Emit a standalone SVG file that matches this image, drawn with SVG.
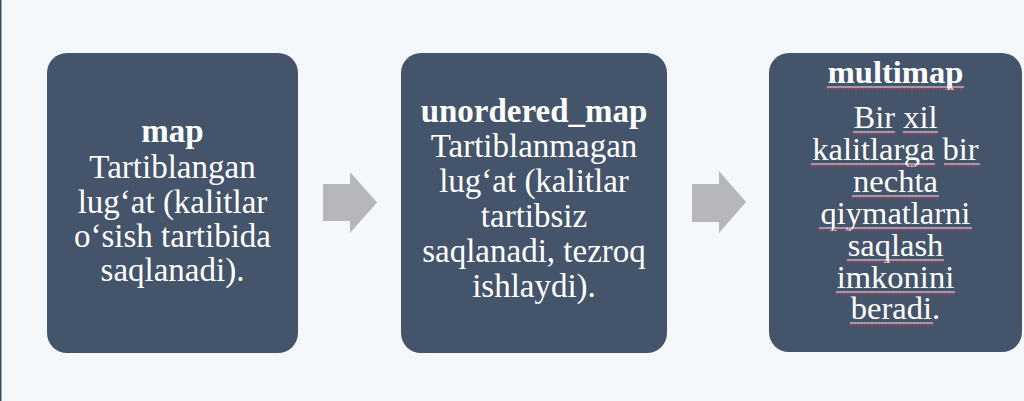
<svg xmlns="http://www.w3.org/2000/svg" width="1024" height="401" viewBox="0 0 1024 401">
<style>
.box{fill:#44546A;}
.arr{fill:#B5B7BA;}
.t{font-family:"Liberation Serif","Times New Roman",serif;font-size:33px;fill:#FFFFFF;text-anchor:middle;}
.r{font-size:32.5px;}
.b{font-weight:bold;}
.ul{stroke:#F2E6EA;stroke-width:1.2;fill:none;}
.sp{stroke:#C8324F;stroke-width:1.6;stroke-dasharray:2 1.5;fill:none;}
</style>
<rect x="0" y="0" width="1024" height="401" fill="#F5F8FB"/>
<rect x="0" y="0" width="1.5" height="401" fill="#3B4A5C"/>
<g id="node-map">
<rect class="box" x="47" y="53" width="251" height="300" rx="20"/>
<text class="t b" x="172.5" y="142" font-size="32">map</text>
<text class="t" x="172.5" y="178">Tartiblangan</text>
<text class="t" x="172.5" y="213">lug‘at (kalitlar</text>
<text class="t" x="172.5" y="247">o‘sish tartibida</text>
<text class="t" x="172.5" y="281">saqlanadi).</text>
</g>
<g id="node-unordered_map">
<rect class="box" x="401" y="53" width="266" height="300" rx="20"/>
<text class="t b" x="534" y="122">unordered_map</text>
<text class="t" x="534" y="157">Tartiblanmagan</text>
<text class="t" x="534" y="192">lug‘at (kalitlar</text>
<text class="t" x="534" y="227">tartibsiz</text>
<text class="t" x="534" y="262">saqlanadi, tezroq</text>
<text class="t" x="534" y="297">ishlaydi).</text>
</g>
<g id="node-multimap">
<rect class="box" x="769" y="53" width="253" height="299" rx="20"/>
<text class="t r b" x="895.5" y="83">multimap</text>
<text class="t r" x="895.5" y="128">Bir xil</text>
<text class="t r" x="895.5" y="160">kalitlarga bir</text>
<text class="t r" x="895.5" y="192">nechta</text>
<text class="t r" x="895.5" y="224">qiymatlarni</text>
<text class="t r" x="895.5" y="256">saqlash</text>
<text class="t r" x="895.5" y="288">imkonini</text>
<text class="t r" x="895.5" y="319">beradi.</text>
<path class="ul" d="M827 87H964 M853 132H895 M903 132H938 M811 164H935 M944 164H980 M852 196H939 M819 228H972 M847 260H944 M836 292H955 M850 323H933"/>
<path class="sp" d="M827 89H964 M853 134H895 M903 134H938 M811 166H935 M944 166H980 M852 198H939 M819 230H972 M847 262H944 M836 294H955 M850 325H933"/>
</g>
<g id="connectors">
<polygon class="arr" points="323,184 350,184 350,172 377,202.5 350,233 350,221 323,221"/>
<polygon class="arr" points="692,184 719,184 719,171 746,202 719,233 719,222 692,222"/>
</g>
</svg>
